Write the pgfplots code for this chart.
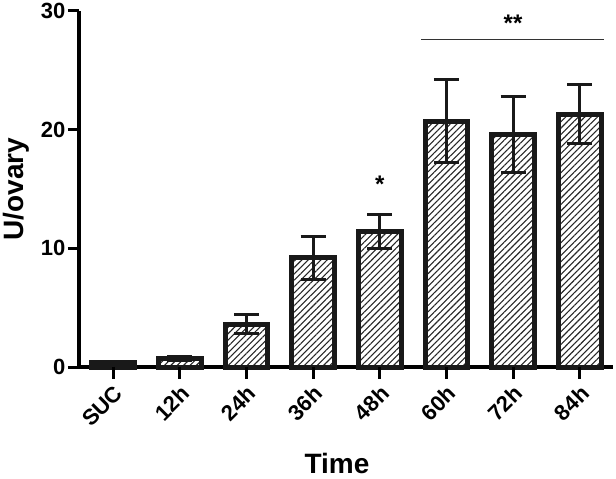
\documentclass[border=0pt]{standalone}
\usepackage{fontspec}
\setmainfont{Liberation Sans}
\usepackage{pgfplots}
\pgfplotsset{compat=1.18}
\usetikzlibrary{patterns.meta}

\begin{document}
\begin{tikzpicture}
\path[use as bounding box] (-79pt,-112pt) rectangle (537pt,367pt);
\begin{axis}[
  at={(0,0)}, anchor=south west,
  scale only axis, width=534pt, height=356pt,
  xmin=-0.515, xmax=7.5, ymin=0, ymax=30,
  axis x line*=bottom, axis y line*=left,
  axis line style={line width=4pt, -},
  ytick={0,10,20,30},
  xtick={0,...,7},
  xticklabels={SUC,12h,24h,36h,48h,60h,72h,84h},
  xtick pos=bottom, ytick pos=left,
  xtick align=outside, ytick align=outside,
  major tick length=11pt,
  every tick/.style={line width=3pt, black},
  tick label style={font=\fontsize{22}{24}\selectfont\bfseries},
  /pgf/number format/assume math mode=true,
  yticklabel style={xshift=1pt},
  xticklabel style={rotate=45, anchor=east, xshift=-1pt, yshift=-12pt},
  ylabel={U/ovary}, xlabel={Time},
  label style={font=\fontsize{28}{30}\selectfont\bfseries},
  ylabel style={at={(axis description cs:-0.118,0.5)}, anchor=center},
  xlabel style={at={(axis description cs:0.5,-0.27)}, anchor=center, xshift=-9pt},
  clip=false,
]
\addplot[ybar, bar width=0.64, draw=black!90, line width=5pt,
  pattern={Lines[angle=45,distance=4.5pt,line width=1.1pt]}, pattern color=black!85,
  error bars/.cd, y dir=both, y explicit,
  error bar style={line width=3pt, black!90},
  error mark options={line width=3pt, mark size=12.5pt, black!90, rotate=90}]
coordinates {
  (0,0.4)  +- (0,0.1)
  (1,0.7)  +- (0,0.15)
  (2,3.6)  +- (0,0.8)
  (3,9.2)  +- (0,1.8)
  (4,11.4) +- (0,1.45)
  (5,20.7) +- (0,3.5)
  (6,19.6) +- (0,3.2)
  (7,21.3) +- (0,2.5)
};
% remember where the x ticks sit, draw them after the axis
\pgfplotsinvokeforeach{0,...,7}{
  \coordinate (t#1) at (axis cs:#1,0);
}
\draw[line width=1pt, black!80] (axis cs:4.62,27.6) -- (axis cs:7.37,27.6);
\node[font=\fontsize{24}{26}\selectfont\bfseries] at (axis cs:6,29.0) {**};
\node[font=\fontsize{24}{26}\selectfont\bfseries] at (axis cs:4,15.4) {*};
\end{axis}
\foreach \i in {0,...,7} {
  \draw[line width=3pt, black] (t\i) -- ++(0pt,-12pt);
}
\end{tikzpicture}
\end{document}
